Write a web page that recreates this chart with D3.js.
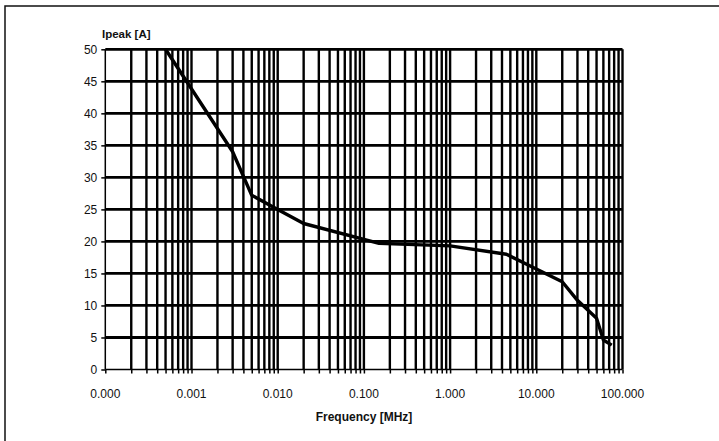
<!DOCTYPE html>
<html>
<head>
<meta charset="utf-8">
<script src="https://cdn.jsdelivr.net/npm/d3@7"></script>
<style>
  body { margin: 0; background: #fff; }
  svg { display: block; font-family: "Liberation Sans", Arial, sans-serif; }
</style>
</head>
<body>
<svg width="719" height="441"></svg>
<script>
const svg = d3.select("svg");

// curve: frequency (MHz) vs peak current (A)
const freqMHz = [0.0005, 0.003, 0.005, 0.01, 0.02, 0.15, 1, 4.5, 10, 20, 30, 50, 60, 75];
const ipeakA  = [50,     34,    27.2,  25,   22.8, 19.7, 19.3, 18, 15.7, 13.7, 10.8, 8, 4.6, 3.8];

const xTickValues = [0.0001, 0.001, 0.01, 0.1, 1, 10, 100];
const xTickLabels = ["0.000", "0.001", "0.010", "0.100", "1.000", "10.000", "100.000"];
const yTickValues = [0, 5, 10, 15, 20, 25, 30, 35, 40, 45, 50];

const plotLeft = 105.3, plotRight = 622.5, plotTop = 49.3, plotBottom = 369.5;

const x = d3.scaleLog().domain([0.0001, 100]).range([plotLeft, plotRight]);
const y = d3.scaleLinear().domain([0, 50]).range([plotBottom, plotTop]);

// frame round the whole thing (only top and left edges show)
svg.append("rect")
  .attr("x", 5).attr("y", 6)
  .attr("width", 800).attr("height", 600)
  .attr("fill", "none").attr("stroke", "#111").attr("stroke-width", 1.5);

// every 1..9 step in every decade gets a vertical grid line
const minor = [];
for (let d = -4; d < 2; d++) {
  for (let k = 1; k <= 9; k++) minor.push(k * Math.pow(10, d));
}
minor.push(100);

const grid = svg.append("g").attr("stroke", "#000");

grid.selectAll(".vx")
  .data(minor.slice(1))
  .enter().append("line")
  .attr("stroke-width", 2.4)
  .attr("x1", d => x(d)).attr("x2", d => x(d))
  .attr("y1", plotTop).attr("y2", plotBottom);

grid.selectAll(".hy")
  .data(yTickValues.slice(1))
  .enter().append("line")
  .attr("stroke-width", 2.8)
  .attr("x1", plotLeft).attr("x2", plotRight)
  .attr("y1", d => y(d)).attr("y2", d => y(d));

// x axis, small ticks at each grid position
const xAxis = svg.append("g")
  .attr("transform", `translate(0,${plotBottom})`)
  .call(d3.axisBottom(x).tickValues(minor).tickSize(4).tickFormat(""));
xAxis.select(".domain").attr("stroke-width", 1.5).attr("d", `M${plotLeft},0H${plotRight}`);
xAxis.selectAll(".tick line").attr("stroke-width", 1.5);

svg.append("g")
  .selectAll("text")
  .data(xTickValues)
  .enter().append("text")
  .attr("x", d => x(d))
  .attr("y", 397.5)
  .attr("text-anchor", "middle")
  .attr("font-size", "12px")
  .attr("fill", "#111")
  .text((d, i) => xTickLabels[i]);

// y axis
const yAxis = svg.append("g")
  .attr("transform", `translate(${plotLeft},0)`)
  .call(d3.axisLeft(y).tickValues(yTickValues).tickSize(4).tickPadding(4));
yAxis.select(".domain").attr("stroke-width", 1.5).attr("d", `M0,${plotBottom}V${plotTop}`);
yAxis.selectAll(".tick line").attr("stroke-width", 1.5);
yAxis.selectAll(".tick text").attr("font-size", "12px").attr("fill", "#111")
  .attr("font-family", "'Liberation Sans', Arial, sans-serif");

// titles
svg.append("text")
  .attr("x", 102).attr("y", 37.5)
  .attr("font-size", "11.5px").attr("font-weight", "bold").attr("fill", "#111")
  .text("Ipeak [A]");

svg.append("text")
  .attr("x", 364).attr("y", 421)
  .attr("text-anchor", "middle")
  .attr("font-size", "12px").attr("font-weight", "bold").attr("fill", "#111")
  .text("Frequency [MHz]");

// the curve
const line = d3.line()
  .x((d, i) => x(freqMHz[i]))
  .y((d, i) => y(ipeakA[i]));

svg.append("path")
  .datum(freqMHz)
  .attr("d", line)
  .attr("fill", "none")
  .attr("stroke", "#000")
  .attr("stroke-width", 3.4)
  .attr("stroke-linejoin", "round");
</script>
</body>
</html>
